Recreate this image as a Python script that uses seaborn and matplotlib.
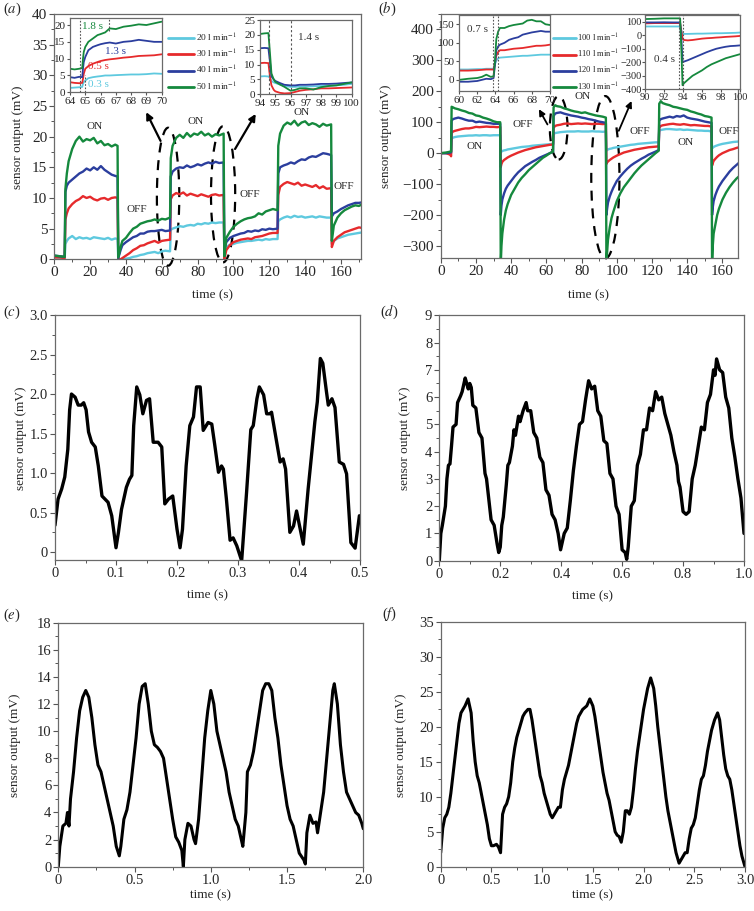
import matplotlib
matplotlib.use('Agg')
import matplotlib.pyplot as plt
import seaborn as sns
from matplotlib.ticker import AutoMinorLocator, MultipleLocator, FuncFormatter
from matplotlib.patches import Ellipse
from matplotlib.lines import Line2D

# ---------------- data: panel (a) ----------------
ta_seg = [
    [0, 3, 5.8],
    [6.2, 7, 8, 10, 12, 14, 16, 18, 20, 22, 24, 26, 28, 30, 32, 34, 35.3],
    [35.7, 37, 38, 40, 42, 44, 46, 48, 50, 52, 54, 56, 58, 60, 62, 64.6],
    [65.0, 66, 68, 70, 72, 74, 76, 78, 80, 82, 84, 86, 88, 90, 92, 94.5],
    [94.9, 96, 98, 100, 102, 104, 106, 108, 110, 112, 114, 116, 118, 120, 122, 124.6],
    [125.0, 126, 128, 130, 132, 134, 136, 138, 140, 142, 144, 146, 148, 150, 152, 154.5],
    [154.9, 156, 158, 160, 162, 164, 166, 168, 170, 172, 174, 176],
]
a_green = [
    [0.6, 0.5, 0.4],
    [11.5, 14.0, 16.0, 18.0, 19.3, 20.0, 19.2, 19.6, 19.4, 19.8, 18.9, 19.3, 18.6, 18.8, 18.4, 18.7, 18.5],
    [0.3, 2.0, 3.0, 3.5, 4.3, 5.0, 5.3, 5.8, 6.0, 6.2, 6.3, 6.5, 6.3, 6.6, 6.5, 6.8],
    [16.5, 18.5, 19.8, 20.3, 19.8, 20.6, 20.0, 20.5, 20.3, 20.8, 20.2, 20.5, 20.0, 20.4, 20.2, 20.5],
    [0.5, 3.5, 4.5, 5.3, 5.8, 6.2, 6.5, 6.7, 6.8, 7.0, 7.5, 7.3, 7.8, 8.0, 8.2, 8.0],
    [18.5, 20.5, 21.8, 22.3, 22.0, 22.6, 21.8, 22.3, 22.5, 21.9, 22.2, 22.0, 21.6, 22.1, 21.8, 22.0],
    [3.0, 5.5, 6.8, 7.5, 8.0, 8.3, 8.6, 8.8, 8.7, 9.0, 8.8, 8.9],
]
a_blue = [
    [0.6, 0.5, 0.4],
    [11.0, 12.0, 12.5, 13.0, 13.5, 14.0, 14.3, 14.8, 14.5, 15.0, 14.6, 15.2, 14.6, 14.2, 13.8, 13.6, 13.5],
    [0.2, 1.5, 2.3, 2.8, 3.2, 3.6, 3.8, 4.2, 4.2, 4.5, 4.6, 4.6, 4.7, 4.8, 4.6, 4.7],
    [13.5, 14.3, 14.8, 15.0, 14.9, 15.3, 15.0, 15.2, 15.5, 15.3, 15.6, 15.8, 15.6, 15.9, 15.7, 15.8],
    [1.5, 2.8, 3.5, 3.8, 4.0, 4.2, 4.3, 4.6, 4.5, 4.7, 4.6, 4.9, 4.8, 5.0, 4.9, 5.0],
    [14.0, 15.0, 15.3, 15.5, 15.8, 15.6, 16.0, 16.3, 16.2, 16.6, 16.8, 16.7, 17.0, 17.3, 17.2, 17.0],
    [7.0, 7.5, 7.8, 8.2, 8.5, 8.8, 9.0, 9.2, 9.2, 9.3, 9.1, 9.0],
]
a_red = [
    [0.3, 0.3, 0.2],
    [6.5, 7.5, 8.3, 9.0, 9.5, 9.8, 10.3, 10.0, 10.2, 9.8, 9.6, 9.9, 10.0, 9.7, 10.0, 10.1, 10.0],
    [0.0, 0.0, 0.2, 0.6, 1.0, 1.5, 1.8, 2.2, 2.3, 2.6, 2.8, 3.0, 2.7, 3.0, 3.1, 3.2],
    [9.8, 10.4, 10.8, 10.6, 10.9, 10.4, 10.7, 10.5, 10.3, 10.6, 10.4, 10.2, 10.5, 10.6, 10.4, 10.5],
    [0.0, 1.5, 2.3, 2.8, 3.0, 3.2, 3.3, 3.4, 3.3, 3.6, 3.7, 3.8, 4.0, 4.2, 4.3, 4.3],
    [10.5, 11.8, 12.3, 12.6, 12.4, 12.2, 12.5, 12.0, 12.2, 12.0, 11.8, 12.1, 11.6, 11.9, 11.5, 11.6],
    [2.0, 3.0, 3.6, 4.0, 4.4, 4.6, 4.8, 5.0, 5.2, 5.1, 5.0, 5.2],
]
a_cyan = [
    [0.3, 0.3, 0.2],
    [2.5, 3.0, 3.4, 3.8, 3.3, 3.6, 3.4, 3.5, 3.3, 3.6, 3.5, 3.4, 3.3, 3.5, 3.2, 3.4, 3.3],
    [0.0, 0.0, 0.0, 0.1, 0.2, 0.4, 0.5, 0.7, 0.8, 1.0, 1.1, 1.2, 1.0, 1.3, 1.4, 1.3],
    [4.8, 5.0, 5.2, 5.4, 5.3, 5.5, 5.6, 5.5, 5.8, 5.7, 5.9, 5.8, 6.0, 5.9, 6.0, 6.0],
    [1.5, 2.0, 2.4, 2.5, 2.7, 2.8, 2.9, 3.0, 3.0, 3.1, 3.2, 3.1, 3.3, 3.2, 3.3, 3.3],
    [6.2, 6.5, 6.8, 7.0, 6.8, 7.1, 6.9, 7.0, 6.8, 6.9, 7.0, 6.8, 7.0, 6.9, 6.8, 6.8],
    [2.5, 3.0, 3.4, 3.6, 3.8, 4.0, 4.1, 4.2, 4.3, 4.4, 4.5, 4.5],
]
a_labels = [r'20 l min$^{-1}$', r'30 l min$^{-1}$', r'40 l min$^{-1}$', r'50 l min$^{-1}$']

# inset a1 (64-70 s) and a2 (94-100 s)
a1_t = [64, 64.3, 64.6, 64.8, 64.85, 64.9, 65.0, 65.2, 65.5, 65.8, 66.0, 66.3, 66.6, 67, 67.5, 68, 68.5, 69, 69.5, 70]
a1_green = [7.0, 6.8, 7.0, 7.2, 10, 12, 13.5, 15, 16.0, 17.0, 17.3, 17.8, 19.0, 18.8, 19.5, 19.8, 20.2, 20.0, 20.5, 21.0]
a1_blue = [4.5, 4.3, 4.6, 4.5, 7, 9, 10.5, 12.5, 13.5, 14.0, 14.3, 14.6, 14.8, 14.5, 15.0, 15.2, 15.6, 15.3, 15.0, 15.0]
a1_red = [3.0, 2.8, 2.7, 2.8, 4, 5.5, 7.0, 7.8, 8.5, 9.0, 9.3, 9.6, 9.8, 10.0, 10.3, 10.5, 10.8, 10.9, 11.0, 11.3]
a1_cyan = [1.3, 1.4, 1.5, 1.6, 2.5, 3.0, 3.5, 4.2, 4.5, 4.7, 4.8, 5.0, 5.0, 5.1, 5.2, 5.3, 5.3, 5.4, 5.6, 5.5]

a2_t = [94, 94.3, 94.55, 94.65, 94.75, 94.9, 95.0, 95.3, 95.6, 96.0, 96.3, 96.6, 97.0, 97.5, 98.0, 98.5, 99.0, 99.5, 100]
a2_green = [20.3, 20.5, 20.6, 14, 7, 5, 4.2, 3.3, 2.5, 1.2, 1.5, 2.0, 2.0, 1.6, 2.4, 2.8, 3.0, 3.5, 4.0]
a2_blue = [15.5, 15.6, 15.5, 11, 6, 5, 4.5, 3.8, 3.2, 3.0, 3.0, 3.2, 3.2, 3.3, 3.5, 3.5, 3.6, 3.8, 4.0]
a2_red = [10.5, 10.6, 10.5, 6, 3, 1.5, 1.0, 0.5, 0.3, 0.4, 0.8, 1.2, 1.5, 1.7, 2.0, 2.0, 2.1, 2.2, 2.3]
a2_cyan = [6.0, 6.1, 6.0, 5.5, 4.5, 4.0, 3.8, 3.3, 2.8, 2.5, 2.5, 2.6, 2.6, 2.7, 2.8, 2.9, 3.0, 3.2, 3.5]

# ---------------- data: panel (b) ----------------
tb_seg = [
    [0, 3, 5.5, 5.9],
    [6.2, 7, 8, 10, 12, 14, 16, 18, 20, 22, 24, 26, 28, 30, 32, 33.8],
    [34.1, 34.5, 35, 36, 37, 38, 40, 42, 44, 46, 48, 50, 52, 54, 56, 58, 60, 62, 63.8],
    [64.1, 65, 66, 68, 70, 72, 74, 76, 78, 80, 82, 84, 86, 88, 90, 92, 93.8],
    [94.1, 94.5, 95, 96, 97, 98, 100, 102, 104, 106, 108, 110, 112, 114, 116, 118, 120, 122, 123.8],
    [124.1, 125, 126, 128, 130, 132, 134, 136, 138, 140, 142, 144, 146, 148, 150, 152, 153.8],
    [154.1, 154.5, 155, 156, 157, 158, 160, 162, 164, 166, 168, 170],
]
b_green = [
    [0, 2, 5, 5],
    [150, 148, 145, 142, 138, 135, 130, 128, 122, 120, 115, 112, 108, 103, 100, 100],
    [-360, -300, -260, -215, -185, -165, -135, -115, -95, -80, -68, -55, -45, -35, -25, -15, -8, 0, 5],
    [148, 155, 152, 150, 145, 142, 138, 135, 133, 130, 132, 128, 125, 122, 120, 118, 115],
    [-360, -320, -280, -240, -210, -190, -155, -130, -110, -95, -80, -65, -52, -40, -30, -20, -10, 0, 8],
    [160, 168, 162, 158, 155, 150, 148, 145, 142, 140, 135, 132, 128, 125, 120, 118, 115],
    [-360, -300, -260, -230, -200, -180, -150, -128, -110, -95, -82, -72],
]
b_blue = [
    [0, 0, 2, 3],
    [105, 110, 112, 115, 112, 108, 105, 105, 100, 102, 100, 98, 97, 95, 95, 95],
    [-200, -170, -150, -130, -115, -105, -90, -75, -62, -52, -42, -35, -28, -22, -15, -10, -5, 0, 5],
    [120, 128, 130, 132, 128, 125, 122, 120, 118, 115, 113, 110, 108, 105, 102, 100, 98],
    [-200, -180, -160, -140, -125, -112, -90, -75, -62, -50, -40, -32, -25, -18, -12, -5, 0, 5, 10],
    [105, 110, 112, 115, 118, 115, 120, 118, 122, 115, 112, 110, 108, 105, 102, 100, 98],
    [-200, -175, -155, -135, -120, -108, -90, -75, -60, -48, -38, -28],
]
b_red = [
    [0, 0, -5, -10],
    [65, 70, 72, 75, 78, 80, 80, 82, 85, 84, 85, 86, 85, 85, 84, 85],
    [-45, -35, -28, -22, -18, -14, -8, -3, 2, 6, 10, 13, 16, 19, 21, 23, 25, 27, 28],
    [82, 88, 90, 92, 95, 96, 94, 95, 96, 95, 96, 95, 94, 95, 95, 94, 95],
    [-35, -30, -27, -22, -18, -14, -8, -3, 2, 5, 8, 11, 13, 15, 17, 19, 20, 21, 22],
    [82, 88, 90, 92, 94, 95, 93, 92, 94, 92, 90, 91, 90, 89, 88, 88, 86],
    [-40, -32, -25, -18, -12, -7, 0, 5, 10, 13, 17, 20],
]
b_cyan = [
    [0, 0, 0, 0],
    [48, 50, 52, 54, 55, 56, 57, 57, 58, 57, 58, 58, 57, 58, 58, 58],
    [2, 5, 7, 9, 10, 12, 14, 16, 18, 20, 21, 22, 24, 25, 26, 27, 28, 29, 30],
    [62, 65, 66, 68, 69, 70, 70, 70, 71, 70, 70, 70, 71, 70, 70, 69, 70],
    [8, 10, 12, 14, 15, 17, 19, 21, 23, 25, 27, 28, 30, 31, 32, 33, 34, 35, 35],
    [72, 75, 76, 78, 78, 77, 76, 77, 75, 76, 75, 74, 73, 73, 72, 72, 70],
    [15, 18, 20, 23, 25, 27, 30, 32, 34, 36, 37, 38],
]
b_labels = [r'100 l min$^{-1}$', r'110 l min$^{-1}$', r'120 l min$^{-1}$', r'130 l min$^{-1}$']

b1_t = [60, 61, 62, 62.5, 63, 63.5, 63.8, 63.95, 64.1, 64.3, 64.5, 65, 65.5, 66, 66.5, 67, 67.5, 68, 68.5, 69, 69.5, 70]
b1_green = [0, 3, 5, 8, 14, 8, 10, 50, 110, 130, 140, 140, 145, 148, 150, 152, 160, 162, 158, 158, 150, 148]
b1_blue = [-5, -5, -3, 0, 3, 2, 5, 40, 80, 90, 95, 100, 108, 112, 115, 122, 125, 128, 130, 132, 130, 130]
b1_red = [25, 25, 26, 27, 28, 28, 28, 45, 65, 75, 80, 80, 82, 84, 85, 86, 88, 90, 92, 92, 93, 95]
b1_cyan = [28, 28, 29, 29, 30, 30, 30, 42, 52, 58, 60, 61, 62, 63, 64, 65, 65, 66, 67, 68, 68, 68]

b2_t = [90, 91, 92, 93, 93.7, 93.85, 93.95, 94.1, 94.5, 95, 95.5, 96, 96.5, 97, 97.5, 98, 98.5, 99, 99.5, 100]
b2_green = [120, 122, 125, 125, 125, -150, -370, -355, -330, -300, -280, -260, -235, -215, -200, -185, -170, -160, -150, -140]
b2_blue = [95, 95, 96, 95, 95, -50, -200, -195, -185, -170, -155, -140, -125, -112, -100, -92, -85, -80, -78, -75]
b2_red = [88, 90, 90, 90, 90, 20, -25, -35, -38, -35, -30, -25, -22, -20, -17, -15, -12, -10, -8, -5]
b2_cyan = [65, 65, 65, 65, 65, 30, 10, 10, 10, 11, 12, 12, 13, 14, 15, 15, 16, 17, 18, 20]

# ---------------- data: panels (c)-(f) ----------------
c_points = [
    (0, 0.34), (0.005, 0.67), (0.011, 0.8), (0.016, 0.95), (0.021, 1.3), (0.024, 1.8), (0.027, 2.0), (0.033, 1.96),
    (0.038, 1.86), (0.043, 1.86), (0.047, 1.89), (0.051, 1.8), (0.055, 1.52), (0.06, 1.39), (0.066, 1.33),
    (0.071, 1.09), (0.077, 0.71), (0.082, 0.67), (0.087, 0.63), (0.093, 0.46), (0.1, 0.055), (0.104, 0.25),
    (0.109, 0.54), (0.117, 0.82), (0.122, 0.92), (0.126, 0.97), (0.129, 1.6), (0.134, 2.09), (0.139, 1.99),
    (0.144, 1.75), (0.15, 1.92), (0.155, 1.94), (0.161, 1.39), (0.169, 1.39), (0.175, 1.33), (0.18, 0.61),
    (0.186, 0.67), (0.193, 0.71), (0.2, 0.29), (0.205, 0.055), (0.209, 0.29), (0.215, 1.09), (0.221, 1.6),
    (0.227, 1.71), (0.232, 2.09), (0.238, 2.09), (0.243, 1.54), (0.251, 1.64), (0.257, 1.62), (0.262, 1.35),
    (0.268, 1.01), (0.273, 1.09), (0.276, 1.05), (0.281, 0.67), (0.287, 0.15), (0.292, 0.18), (0.298, 0.08),
    (0.306, -0.11), (0.314, 0.75), (0.321, 1.55), (0.325, 1.6), (0.331, 1.94), (0.335, 2.09), (0.342, 1.99),
    (0.347, 1.75), (0.352, 1.75), (0.355, 1.77), (0.363, 1.41), (0.369, 1.14), (0.374, 1.18), (0.378, 1.05),
    (0.385, 0.25), (0.391, 0.33), (0.396, 0.52), (0.402, 0.29), (0.407, 0.1), (0.415, 0.8), (0.421, 1.26),
    (0.426, 1.65), (0.43, 1.9), (0.435, 2.45), (0.439, 2.39), (0.445, 2.03), (0.448, 1.86), (0.454, 1.94),
    (0.459, 1.83), (0.466, 1.14), (0.473, 1.11), (0.478, 0.99), (0.485, 0.12), (0.492, 0.05), (0.499, 0.46),
]
d_points = [
    (0, 0), (0.005, 1.0), (0.01, 1.3), (0.02, 2.0), (0.025, 3.0), (0.03, 3.5), (0.035, 3.55), (0.04, 4.2),
    (0.045, 4.9), (0.055, 5.0), (0.06, 5.8), (0.07, 6.05), (0.075, 6.2), (0.085, 6.7), (0.09, 6.5),
    (0.095, 6.3), (0.1, 6.5), (0.105, 6.35), (0.11, 5.7), (0.12, 5.6), (0.13, 4.7), (0.14, 4.5), (0.15, 3.2),
    (0.155, 3.0), (0.165, 2.0), (0.17, 1.5), (0.18, 1.3), (0.19, 0.6), (0.195, 0.3), (0.2, 0.5),
    (0.205, 1.3), (0.21, 1.6), (0.22, 2.8), (0.225, 3.5), (0.23, 3.6), (0.24, 4.2), (0.245, 4.8), (0.25, 4.6),
    (0.26, 5.3), (0.265, 5.1), (0.275, 5.5), (0.285, 5.8), (0.29, 5.5), (0.3, 5.5), (0.31, 4.7), (0.32, 4.5),
    (0.33, 3.8), (0.34, 3.6), (0.35, 2.6), (0.36, 2.4), (0.37, 1.7), (0.38, 1.5), (0.39, 1.0), (0.398, 0.4),
    (0.41, 1.0), (0.42, 1.2), (0.43, 2.2), (0.44, 3.3), (0.45, 4.2), (0.46, 5.0), (0.47, 5.1), (0.48, 5.9),
    (0.49, 6.6), (0.50, 6.3), (0.51, 6.4), (0.52, 5.5), (0.53, 5.3), (0.54, 4.4), (0.55, 4.3), (0.56, 3.2),
    (0.57, 3.0), (0.58, 2.0), (0.59, 1.7), (0.60, 0.4), (0.61, 0.3), (0.615, 0.05), (0.62, 0.5),
    (0.63, 2.0), (0.64, 2.2), (0.65, 3.5), (0.66, 3.9), (0.67, 4.8), (0.68, 4.8), (0.69, 5.6), (0.70, 5.5),
    (0.71, 6.2), (0.72, 5.9), (0.73, 6.0), (0.74, 5.4), (0.75, 5.0), (0.76, 4.6), (0.77, 4.0), (0.78, 3.5),
    (0.785, 2.9), (0.79, 2.7), (0.80, 1.8), (0.81, 1.7), (0.82, 1.8),
    (0.83, 3.0), (0.84, 3.5), (0.85, 4.2), (0.86, 4.9), (0.87, 4.8), (0.88, 5.8), (0.89, 6.1), (0.90, 7.0),
    (0.905, 6.8), (0.91, 7.4), (0.92, 7.0), (0.93, 6.9), (0.94, 6.0), (0.95, 5.6), (0.96, 4.5), (0.97, 3.8),
    (0.98, 3.0), (0.99, 2.3), (1.0, 1.0),
]
e_points = [
    (0, 0), (0.01, 1.5), (0.03, 3), (0.05, 3.2), (0.06, 4), (0.07, 3), (0.08, 5), (0.1, 7), (0.12, 9.5),
    (0.14, 11.5), (0.16, 12.5), (0.18, 13), (0.2, 12.5), (0.22, 11), (0.24, 9), (0.26, 7.5), (0.28, 7),
    (0.3, 6), (0.32, 5), (0.34, 4), (0.36, 3), (0.38, 1.5), (0.40, 0.8), (0.41, 1.5), (0.43, 3.5),
    (0.45, 4.2), (0.47, 5.5), (0.49, 7.5), (0.51, 9.5), (0.53, 12), (0.55, 13.3), (0.57, 13.5), (0.59, 12),
    (0.61, 10), (0.63, 9), (0.65, 8.8), (0.67, 8.5), (0.69, 8), (0.71, 6.5), (0.73, 5), (0.75, 3.5),
    (0.77, 2.2), (0.79, 1.8), (0.81, 1.2), (0.82, 0), (0.83, 2), (0.85, 3.2), (0.87, 3), (0.89, 2),
    (0.9, 1.7), (0.92, 3.5), (0.94, 6.5), (0.96, 9.5), (0.98, 11.5), (1.0, 13), (1.02, 12), (1.04, 10),
    (1.06, 9), (1.08, 8), (1.1, 7), (1.12, 5.5), (1.14, 4.5), (1.16, 3.5), (1.18, 3), (1.2, 2), (1.21, 1.5),
    (1.23, 4), (1.24, 7), (1.26, 7.5), (1.28, 8.5), (1.3, 10), (1.32, 11.5), (1.34, 13), (1.36, 13.5),
    (1.38, 13.5), (1.4, 13), (1.42, 11), (1.44, 9.5), (1.46, 7.5), (1.48, 6), (1.5, 4.5), (1.52, 3.5),
    (1.54, 3), (1.56, 2), (1.58, 1), (1.61, 0.5), (1.62, 0.2), (1.63, 2.5), (1.65, 3.8), (1.67, 3.2),
    (1.69, 3.3), (1.7, 2.5), (1.72, 4), (1.74, 5.5), (1.76, 8), (1.78, 10.5), (1.8, 13), (1.81, 13.5),
    (1.83, 12), (1.85, 9), (1.87, 7), (1.89, 5.5), (1.91, 5), (1.93, 4.5), (1.95, 4), (1.97, 3.8),
    (1.99, 3.2), (2.0, 2.8),
]
f_points = [
    (0, 2), (0.02, 5.5), (0.04, 7), (0.06, 7.5), (0.08, 8.5), (0.1, 10.5), (0.12, 13), (0.14, 15.5),
    (0.16, 18), (0.18, 20.5), (0.2, 22), (0.22, 22.5), (0.24, 23), (0.27, 24), (0.3, 22), (0.32, 18),
    (0.34, 15), (0.36, 13), (0.38, 12), (0.4, 10.5), (0.42, 9), (0.44, 7.5), (0.46, 6), (0.48, 4),
    (0.5, 3), (0.52, 3), (0.55, 3.2), (0.57, 2.8), (0.59, 2), (0.61, 7.5), (0.63, 8.5), (0.65, 9),
    (0.67, 10), (0.69, 12), (0.71, 15), (0.73, 17), (0.75, 18.5), (0.77, 19.5), (0.79, 20.5), (0.81, 21.5),
    (0.83, 22), (0.86, 22.5), (0.88, 22.5), (0.9, 21), (0.92, 19), (0.94, 17), (0.96, 15), (0.98, 13),
    (1.0, 12), (1.02, 10.5), (1.04, 9.5), (1.06, 8.5), (1.08, 7.5), (1.1, 7), (1.12, 7.5), (1.14, 8),
    (1.16, 8.5), (1.18, 8.5), (1.2, 11), (1.22, 12.5), (1.24, 13.5), (1.26, 14.5), (1.28, 16), (1.3, 17.5),
    (1.32, 19), (1.34, 20.5), (1.36, 21.5), (1.4, 22.5), (1.44, 23), (1.47, 24), (1.5, 23), (1.52, 21.5),
    (1.54, 19.5), (1.56, 17.5), (1.58, 15.5), (1.6, 13.5), (1.62, 12), (1.64, 10.5), (1.66, 9.5), (1.68, 8),
    (1.7, 6.5), (1.72, 5), (1.74, 4.5), (1.76, 4.3), (1.78, 3.5), (1.8, 5), (1.82, 8), (1.84, 8),
    (1.86, 7.5), (1.88, 8.5), (1.9, 11), (1.92, 14), (1.94, 16.5), (1.96, 18.5), (1.98, 20.5), (2.0, 22.5),
    (2.02, 24), (2.04, 25.5), (2.07, 27), (2.1, 25.5), (2.12, 23), (2.14, 20), (2.16, 17.5), (2.18, 15),
    (2.2, 12.5), (2.22, 10), (2.24, 8), (2.26, 6.5), (2.28, 5), (2.3, 3.5), (2.32, 2), (2.35, 0.5),
    (2.37, 1), (2.39, 1.5), (2.41, 2), (2.43, 2), (2.45, 4), (2.47, 5.5), (2.49, 6), (2.51, 7), (2.53, 9),
    (2.55, 11), (2.57, 12.5), (2.59, 13), (2.61, 14.5), (2.63, 16.5), (2.65, 18), (2.67, 19.5), (2.7, 21),
    (2.73, 22), (2.75, 21), (2.77, 18.5), (2.79, 16), (2.81, 14), (2.83, 13), (2.85, 12.5), (2.87, 11),
    (2.89, 9), (2.91, 7), (2.93, 5), (2.95, 3), (2.97, 1.5), (3.0, 0),
]

# ---------------- styling ----------------
sns.set_theme(style='ticks')
plt.rcParams['font.family'] = ['Liberation Serif', 'DejaVu Serif']
plt.rcParams['mathtext.fontset'] = 'stix'

CYAN, RED, BLUE, GREEN = '#5ec9df', '#e62a2c', '#2b3e9e', '#15893d'
SPINE = '#6a6a6a'
W, H = 754, 911

fig = plt.figure(figsize=(W / 100, H / 100), dpi=100)
fig.patch.set_facecolor('white')


def px_axes(l, t, r, b):
    return fig.add_axes([l / W, 1 - b / H, (r - l) / W, (b - t) / H])


def ftext(x, y, s, **kw):
    fig.text(x / W, 1 - y / H, s, **kw)


def style(ax, fs=10.5, major=3.5, minor=2, pad=1.5):
    ax.set_facecolor('white')
    ax.tick_params(which='major', direction='out', length=major, width=0.8, color='#555555',
                   labelsize=fs, pad=pad, top=False, right=False)
    ax.tick_params(which='minor', direction='out', length=minor, width=0.7, color='#555555',
                   top=False, right=False)
    for s in ax.spines.values():
        s.set_color(SPINE)
        s.set_linewidth(0.9)
    ax.set_xlabel('')
    ax.set_ylabel('')


def line(ax, x, y, color, lw):
    sns.lineplot(x=list(x), y=list(y), ax=ax, color=color, lw=lw, estimator=None, sort=False, legend=False)


def flat(segs):
    out = []
    for s in segs:
        out.extend(s)
    return out


# ================= panel (a) =================
ax = px_axes(54.3, 14, 360.7, 259.3)
ta = flat(ta_seg)
for vals, col in [(a_cyan, CYAN), (a_red, RED), (a_blue, BLUE), (a_green, GREEN)]:
    line(ax, ta, flat(vals), col, 1.7)
ax.set_xlim(0, 171)
ax.set_ylim(0, 40)
ax.xaxis.set_major_locator(MultipleLocator(20))
ax.yaxis.set_major_locator(MultipleLocator(5))
ax.xaxis.set_minor_locator(AutoMinorLocator(2))
ax.yaxis.set_minor_locator(AutoMinorLocator(2))
style(ax, fs=11)
for s, x, y in [('ON', 22.6, 21.6), ('OFF', 46, 8.2), ('ON', 79, 22.4), ('OFF', 109, 10.5),
                ('ON', 137.8, 23.9), ('OFF', 161.5, 11.8)]:
    ax.text(x, y, s, fontsize=8, ha='center', va='center')
for cx, cy, w, h in [(63.5, 10.2, 12.5, 22.5), (94.2, 10.6, 13.5, 22.2)]:
    ax.add_patch(Ellipse((cx, cy), w, h, fill=False, ls=(0, (4.5, 3.5)), lw=1.6, color='black', clip_on=False))
for tail, head in [((60, 18.9), (50.6, 24.4)), ((100.1, 17.6), (113.2, 24.1))]:
    ax.annotate('', xy=head, xytext=tail, annotation_clip=False,
                arrowprops=dict(arrowstyle='-|>', color='black', lw=1.6, mutation_scale=10))
handles = [Line2D([], [], color=c, lw=2) for c in (CYAN, RED, BLUE, GREEN)]
ax.legend(handles, a_labels, loc='upper left', bbox_to_anchor=(168 / W, 1 - 31.5 / H),
          bbox_transform=fig.transFigure, frameon=False, fontsize=6.8, handlelength=2.8,
          handletextpad=0.15, labelspacing=0.45, borderaxespad=0, borderpad=0)

# inset a1
ai = px_axes(70, 18.3, 161.7, 92.3)
for y, col in [(a1_cyan, CYAN), (a1_red, RED), (a1_blue, BLUE), (a1_green, GREEN)]:
    line(ai, a1_t, y, col, 1.3)
ai.set_xlim(64, 70)
ai.set_ylim(0, 22)
ai.xaxis.set_major_locator(MultipleLocator(1))
ai.yaxis.set_major_locator(MultipleLocator(5))
style(ai, fs=8, major=2.5, minor=1.5, pad=1)
ai.axvline(64.65, color='#555555', ls=(0, (1.5, 1.5)), lw=0.8)
ai.plot([64.95, 64.95], [0, 5], color='#555555', ls=(0, (1.5, 1.5)), lw=0.8)
ai.plot([66.55, 66.55], [18.3, 22], color='#555555', ls=(0, (1.5, 1.5)), lw=0.8)
ai.text(64.8, 19.5, '1.8 s', color=GREEN, fontsize=8, va='center')
ai.text(66.3, 12.1, '1.3 s', color=BLUE, fontsize=8, va='center')
ai.text(65.2, 7.6, '0.5 s', color=RED, fontsize=8, va='center')
ai.text(65.2, 2.2, '0.3 s', color=CYAN, fontsize=8, va='center')

# inset a2
ai = px_axes(260, 20, 351.7, 94.3)
for y, col in [(a2_cyan, CYAN), (a2_red, RED), (a2_blue, BLUE), (a2_green, GREEN)]:
    line(ai, a2_t, y, col, 1.3)
ai.set_xlim(94, 100)
ai.set_ylim(0, 25)
ai.xaxis.set_major_locator(MultipleLocator(1))
ai.yaxis.set_major_locator(MultipleLocator(5))
style(ai, fs=8, major=2.5, minor=1.5, pad=1)
ai.axvline(94.6, color='#555555', ls=(0, (2, 2)), lw=0.8)
ai.axvline(96.0, color='#555555', ls=(0, (2, 2)), lw=0.8)
ai.text(96.5, 19, '1.4 s', color='#333333', fontsize=8, va='center')

# ================= panel (b) =================
ax = px_axes(440.7, 14, 738.3, 258.3)
tb = flat(tb_seg)
for vals, col in [(b_cyan, CYAN), (b_red, RED), (b_blue, BLUE), (b_green, GREEN)]:
    line(ax, tb, flat(vals), col, 1.7)
ax.set_xlim(0, 169)
ax.set_ylim(-340, 450)
ax.xaxis.set_major_locator(MultipleLocator(20))
ax.xaxis.set_minor_locator(AutoMinorLocator(2))
ax.set_yticks([-300, -200, -100, 0, 100, 200, 300, 400])
ax.yaxis.set_minor_locator(AutoMinorLocator(2))
style(ax, fs=11)
for s, x, y in [('ON', 19.4, 20.7), ('OFF', 46.8, 94), ('ON', 80.8, 182), ('OFF', 112.8, 69),
                ('ON', 139.3, 34), ('OFF', 163.8, 69)]:
    ax.text(x, y, s, fontsize=8, ha='center', va='center')
for cx, cy, w, h in [(67.0, 82, 10, 205), (93.5, -78, 16, 525)]:
    ax.add_patch(Ellipse((cx, cy), w, h, fill=False, ls=(0, (4.5, 3.5)), lw=1.6, color='black', clip_on=False))
for tail, head in [((61.4, 85), (55, 150)), ((100.5, 64), (109, 177))]:
    ax.annotate('', xy=head, xytext=tail, annotation_clip=False,
                arrowprops=dict(arrowstyle='-|>', color='black', lw=1.3, mutation_scale=9))
ax.legend(handles, b_labels, loc='upper left', bbox_to_anchor=(553 / W, 1 - 31.5 / H),
          bbox_transform=fig.transFigure, frameon=False, fontsize=6.2, handlelength=2.7,
          handletextpad=0.12, labelspacing=0.5, borderaxespad=0, borderpad=0)

# inset b1
bi = px_axes(459, 15, 550, 91)
for y, col in [(b1_cyan, CYAN), (b1_red, RED), (b1_blue, BLUE), (b1_green, GREEN)]:
    line(bi, b1_t, y, col, 1.3)
bi.set_xlim(60, 70)
bi.set_ylim(-30, 175)
bi.xaxis.set_major_locator(MultipleLocator(2))
bi.yaxis.set_major_locator(MultipleLocator(50))
style(bi, fs=8, major=2.5, minor=1.5, pad=1)
bi.axvline(63.77, color='#555555', ls=(0, (1.5, 1.5)), lw=0.8)
bi.axvline(64.32, color='#555555', ls=(0, (1.5, 1.5)), lw=0.8)
bi.text(60.9, 137, '0.7 s', color='#333333', fontsize=8, va='center')

# inset b2
bi = px_axes(645, 15, 740, 89.3)
for y, col in [(b2_cyan, CYAN), (b2_red, RED), (b2_blue, BLUE), (b2_green, GREEN)]:
    line(bi, b2_t, y, col, 1.3)
bi.set_xlim(90, 100)
bi.set_ylim(-400, 150)
bi.xaxis.set_major_locator(MultipleLocator(2))
bi.yaxis.set_major_locator(MultipleLocator(100))
style(bi, fs=7.5, major=2, minor=1.2, pad=0.6)
bi.axvline(93.6, color='#555555', ls=(0, (1.5, 1.5)), lw=0.8)
bi.axvline(93.97, color='#555555', ls=(0, (1.5, 1.5)), lw=0.8)
bi.text(90.9, -176, '0.4 s', color='#333333', fontsize=8, va='center')

# ================= panels (c)-(f) =================
specs = [
    (c_points, (55, 315, 360, 560), (0, 0.5), (-0.1, 3.0), 0.1, 0.5, 2.4),
    (d_points, (439.3, 315.3, 744, 560.7), (0, 1.0), (0, 9), 0.2, 1, 2.4),
    (e_points, (58.3, 622.7, 363.3, 866.7), (0, 2.0), (0, 18), 0.5, 2, 2.2),
    (f_points, (440.7, 622, 745, 866.7), (0, 3.0), (0, 35), 0.5, 5, 2.2),
]
for pts, box, xl, yl, xs, ys, lw in specs:
    ax = px_axes(*box)
    t = [p[0] for p in pts]
    v = [p[1] for p in pts]
    line(ax, t, v, 'black', lw)
    ax.set_xlim(*xl)
    ax.set_ylim(*yl)
    ax.xaxis.set_major_locator(MultipleLocator(xs))
    ax.yaxis.set_major_locator(MultipleLocator(ys))
    ax.xaxis.set_minor_locator(AutoMinorLocator(2))
    ax.yaxis.set_minor_locator(AutoMinorLocator(2))
    style(ax, fs=10.5)
    ax.xaxis.set_major_formatter(FuncFormatter(
        lambda val, pos: '0' if abs(val) < 1e-9 else f'{val:.1f}'))
    ax.yaxis.set_major_formatter(FuncFormatter(
        lambda val, pos, ys=ys: '0' if abs(val) < 1e-9 else (f'{val:.1f}' if ys < 1 else f'{val:.0f}')))

# ---------------- axis and panel labels ----------------
LBL = 9.5
for x, y in [(213, 295), (588, 295), (207, 595), (592, 596), (210, 895), (592, 895)]:
    ftext(x, y, 'time (s)', fontsize=LBL, ha='center', va='center')
for x, y in [(18, 137), (386, 136), (21, 438), (405, 438), (15, 745), (401, 745)]:
    ftext(x, y, 'sensor output (mV)', fontsize=LBL, ha='center', va='center', rotation=90)
for x, y, letter in [(3, 9, 'a'), (378, 9, 'b'), (3, 312, 'c'), (380, 312, 'd'), (3, 615, 'e'), (382, 614, 'f')]:
    ftext(x, y, '(' + r'$\it{' + letter + '}$' + ')', fontsize=10.5, ha='left', va='center')

fig.savefig('out.png', dpi=100, facecolor='white')
